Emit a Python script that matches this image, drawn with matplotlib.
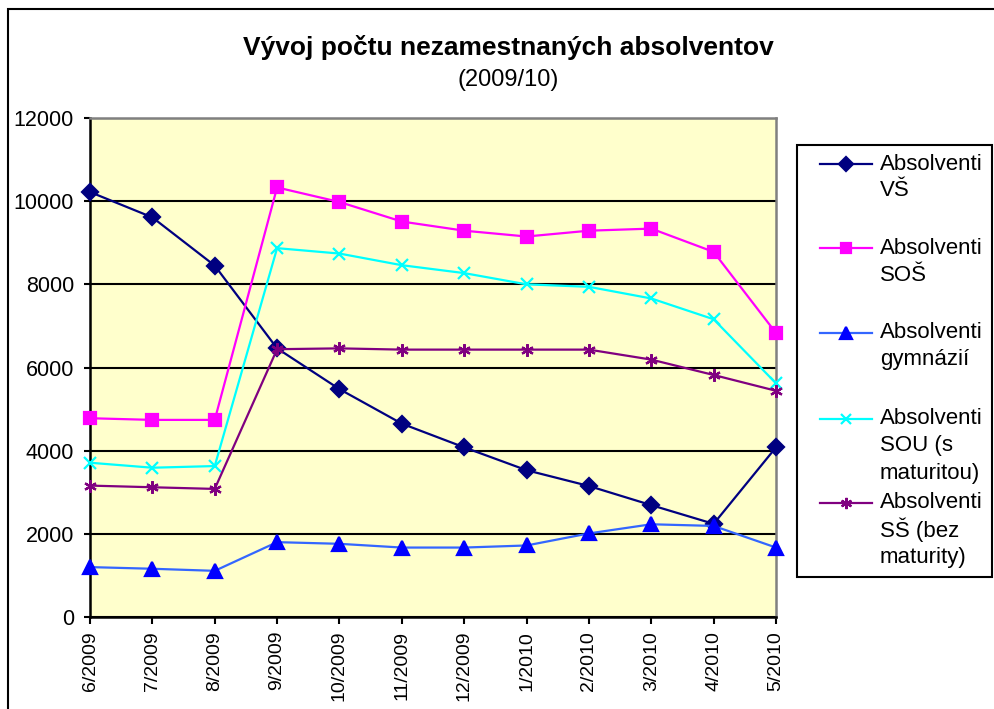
import matplotlib
matplotlib.use("Agg")
import matplotlib.pyplot as plt
from matplotlib.lines import Line2D
from matplotlib.patches import Rectangle

plt.rcParams['font.family'] = ['Liberation Sans', 'DejaVu Sans']

months = ["6/2009", "7/2009", "8/2009", "9/2009", "10/2009", "11/2009",
          "12/2009", "1/2010", "2/2010", "3/2010", "4/2010", "5/2010"]

vs = [10220, 9610, 8450, 6460, 5480, 4650, 4080, 3530, 3150, 2690, 2240, 4080]
sos = [4780, 4740, 4740, 10330, 9980, 9510, 9290, 9150, 9290, 9340, 8780, 6830]
gym = [1200, 1160, 1110, 1800, 1760, 1670, 1670, 1720, 2010, 2230, 2190, 1670]
sou = [3710, 3590, 3630, 8870, 8740, 8460, 8270, 8000, 7940, 7660, 7160, 5620]
ss = [3160, 3120, 3080, 6440, 6460, 6430, 6430, 6430, 6430, 6190, 5820, 5440]

labels = ["Absolventi\nVŠ", "Absolventi\nSOŠ", "Absolventi\ngymnázií",
          "Absolventi\nSOU (s\nmaturitou)", "Absolventi\nSŠ (bez\nmaturity)"]

W, H = 994, 709
fig = plt.figure(figsize=(W / 100, H / 100), dpi=100)
ax = fig.add_axes([90 / W, 1 - 617 / H, (776 - 90) / W, (617 - 118) / H])
ax.set_facecolor("#FFFFCC")

# series styles: (values, line colour, marker, marker colour, marker size)
styles = [
    (vs, "#000080", "D", "#000080", 8),
    (sos, "#FF00FF", "s", "#FF00FF", 8),
    (gym, "#3366FF", "^", "#0000FF", 10),
    (sou, "#00FFFF", "x", "#00FFFF", 8),
    (ss, "#800080", (6, 2, 0), "#800080", 9),
]

x = list(range(len(months)))
for vals, lc, mk, mc, ms in styles:
    ax.plot(x, vals, color=lc, lw=1.6, marker=mk, markersize=ms,
            markerfacecolor=mc, markeredgecolor=mc, markeredgewidth=1.6,
            clip_on=False, zorder=3)

ax.set_xlim(0, 11)
ax.set_ylim(0, 12000)
ax.set_yticks(range(0, 12001, 2000))
ax.set_xticks(x)
ax.set_xticklabels(months, rotation=90, fontsize=14)
ax.tick_params(axis="y", labelsize=15.5, length=4.5, width=1.5, direction="out", pad=7)
ax.tick_params(axis="x", length=5, width=1.5, direction="out", pad=5)
ax.grid(axis="y", color="black", lw=1.5)
ax.set_axisbelow(True)
for s in ["left", "bottom"]:
    ax.spines[s].set_color("black")
    ax.spines[s].set_linewidth(1.8)
for s in ["top", "right"]:
    ax.spines[s].set_color("#808080")
    ax.spines[s].set_linewidth(1.8)

# titles
fig.text(508 / W, 1 - 55 / H, "Vývoj počtu nezamestnaných absolventov",
         ha="center", va="baseline", fontsize=19, fontweight="bold")
fig.text(508 / W, 1 - 86 / H, "(2009/10)", ha="center", va="baseline", fontsize=17)

# outer chart border
fig.patches.append(Rectangle((8 / W, -0.1), 2, 1.1 - 9 / H, transform=fig.transFigure,
                             fill=False, edgecolor="black", lw=1.5))

# legend box
fig.patches.append(Rectangle((797 / W, 1 - 577 / H), (992 - 797) / W, (577 - 145) / H,
                             transform=fig.transFigure, fill=False,
                             edgecolor="black", lw=1.5))
entry_y = [164, 248, 333, 419, 503]
for (vals, lc, mk, mc, ms), lab, ey in zip(styles, labels, entry_y):
    yf = 1 - ey / H
    fig.add_artist(Line2D([820 / W, 872 / W], [yf, yf], color=lc, lw=1.6,
                          transform=fig.transFigure))
    fig.add_artist(Line2D([846 / W], [yf], marker=mk, markersize=ms * 0.9,
                          markerfacecolor=mc, markeredgecolor=mc,
                          markeredgewidth=1.6, transform=fig.transFigure))
    for k, line in enumerate(lab.split("\n")):
        fig.text(880 / W, 1 - (ey + 27 * k) / H, line, ha="left", va="center",
                 fontsize=16)

fig.savefig("out.png", dpi=100)
